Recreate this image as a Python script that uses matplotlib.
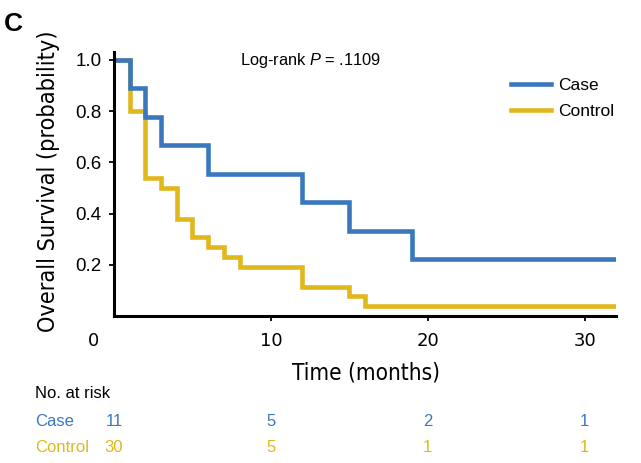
import matplotlib
matplotlib.use("Agg")
import matplotlib.pyplot as plt
from matplotlib import transforms
from matplotlib import font_manager as fm

# ---- data ----
case_time = [0, 1, 2, 3, 6, 12, 15, 19, 31.9]
case_surv = [1.0, 0.889, 0.778, 0.667, 0.556, 0.444, 0.333, 0.222, 0.222]
control_time = [0, 1, 2, 3, 4, 5, 6, 7, 8, 12, 15, 16, 31.9]
control_surv = [1.0, 0.80, 0.54, 0.50, 0.38, 0.31, 0.27, 0.23, 0.19, 0.115, 0.077, 0.038, 0.038]
x_ticks = [10, 20, 30]
y_ticks = [0.2, 0.4, 0.6, 0.8, 1.0]
risk_times = [0, 10, 20, 30]
risk_case = ["11", "5", "2", "1"]
risk_control = ["30", "5", "1", "1"]

BLUE = "#3A78BD"
YELLOW = "#E0B81C"
SANS = ["Liberation Sans", "DejaVu Sans"]

# look for a condensed face if one exists
narrow_family, narrow_stretch = "Liberation Sans", "normal"
for f in fm.fontManager.ttflist:
    st = str(f.stretch).lower()
    if "Narrow" in f.name or "Condensed" in f.name:
        narrow_family, narrow_stretch = f.name, "normal"
        break
    if st in ("condensed", "semi-condensed", "extra-condensed"):
        narrow_family, narrow_stretch = f.name, st
        break
NARROW = [narrow_family, "DejaVu Sans"]

plt.rcParams["mathtext.fontset"] = "custom"
plt.rcParams["mathtext.it"] = "Liberation Sans:italic"
plt.rcParams["mathtext.rm"] = "Liberation Sans"

W, H = 641, 463
fig = plt.figure(figsize=(W / 100, H / 100), dpi=100)
ax = fig.add_axes([114 / W, 1 - 316 / H, (616 - 114) / W, (316 - 51.7) / H])

ax.step(control_time, control_surv, where="post", color=YELLOW, lw=3.3,
        label="Control", solid_joinstyle="miter")
ax.step(case_time, case_surv, where="post", color=BLUE, lw=3.3,
        label="Case", solid_joinstyle="miter")

ax.set_xlim(0, 32)
ax.set_ylim(0, 1.032)
for s in ["top", "right"]:
    ax.spines[s].set_visible(False)
for s in ["left", "bottom"]:
    ax.spines[s].set_linewidth(2.2)

ax.set_xticks(x_ticks)
ax.set_xticklabels([str(t) for t in x_ticks], fontfamily="DejaVu Sans", fontsize=13)
ax.set_yticks(y_ticks)
ax.set_yticklabels([f"{v:.1f}" for v in y_ticks], fontfamily=SANS, fontsize=13.5)
ax.tick_params(axis="both", length=3.5, width=1.3, direction="out", color="black")
ax.tick_params(axis="x", pad=8)
ax.tick_params(axis="y", pad=5.5)

# "0" label at the origin (offset as in reference)
ax.annotate("0", xy=(0, 0), xycoords=("data", "axes fraction"),
            xytext=(-14.5, -11.5), textcoords="offset points",
            ha="center", va="top", fontsize=13, fontfamily="DejaVu Sans")

# legend
handles, labels = ax.get_legend_handles_labels()
leg = ax.legend(handles[::-1], labels[::-1], loc="upper left",
                bbox_to_anchor=(511 / W, 1 - 78 / H), bbox_transform=fig.transFigure,
                frameon=False, fontsize=12.5, handlelength=2.3, handletextpad=0.42,
                labelspacing=0.64, borderpad=0, borderaxespad=0)
for t in leg.get_texts():
    t.set_fontfamily(SANS)

renderer = fig.canvas.get_renderer()


def fit(t, target, vertical=False):
    for _ in range(3):
        bb = t.get_window_extent(renderer)
        cur = bb.height if vertical else bb.width
        t.set_fontsize(t.get_fontsize() * target / cur)


# log-rank text
lr = fig.text(310.5 / W, 1 - 60.5 / H, "Log-rank $P$ = .1109", ha="center", va="center",
              fontsize=12, fontfamily=SANS)
fit(lr, 141)

# panel letter
fig.text(4 / W, 1 - 24 / H, "C", ha="left", va="center", fontsize=19,
         fontweight="bold", fontfamily=SANS)

# axis labels
yl = fig.text(49 / W, 1 - 181 / H, "Overall Survival (probability)", rotation=90,
              ha="center", va="center", fontsize=18, fontfamily=NARROW,
              fontstretch=narrow_stretch)
fit(yl, 302, vertical=True)
xl = fig.text(366 / W, 1 - 373 / H, "Time (months)", ha="center", va="center",
              fontsize=18, fontfamily=NARROW, fontstretch=narrow_stretch)
fit(xl, 148)

# number at risk table
fig.text(35 / W, 1 - 393.5 / H, "No. at risk", ha="left", va="center",
         fontsize=12, fontfamily=SANS)
fig.text(35 / W, 1 - 421.5 / H, "Case", ha="left", va="center",
         fontsize=12, fontfamily=SANS, color=BLUE)
fig.text(35 / W, 1 - 447.5 / H, "Control", ha="left", va="center",
         fontsize=12, fontfamily=SANS, color=YELLOW)
blend = transforms.blended_transform_factory(ax.transData, fig.transFigure)
for i, t in enumerate(risk_times):
    ax.text(t, 1 - 421.5 / H, risk_case[i], transform=blend, ha="center",
            va="center", fontsize=12, fontfamily=SANS, color=BLUE, clip_on=False)
    ax.text(t, 1 - 447.5 / H, risk_control[i], transform=blend, ha="center",
            va="center", fontsize=12, fontfamily=SANS, color=YELLOW, clip_on=False)

fig.savefig("out.png", dpi=100)
